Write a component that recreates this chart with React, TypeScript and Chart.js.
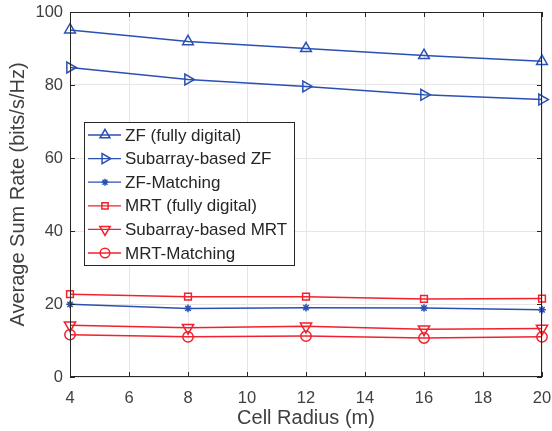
import React, { useEffect, useRef } from "react";
import { Chart, registerables } from "chart.js";
import * as helpers from "chart.js/helpers";

Chart.register(...registerables);

const radius = [4, 8, 12, 16, 20];
const zfFull = [95.1, 91.9, 90.0, 88.1, 86.5];
const subZF = [84.8, 81.5, 79.6, 77.3, 76.0];
const zfMatching = [19.9, 18.8, 19.0, 18.9, 18.4];
const mrtFull = [22.7, 22.0, 22.0, 21.4, 21.5];
const subMRT = [14.2, 13.5, 13.9, 13.1, 13.3];
const mrtMatching = [11.6, 11.0, 11.2, 10.7, 11.0];
const xTicks = [4, 6, 8, 10, 12, 14, 16, 18, 20];
const yTicks = [0, 20, 40, 60, 80, 100];

const BLUE = "#2a50b4";
const RED = "#f0222e";
const FONT = "'Liberation Sans', Arial, Helvetica, sans-serif";

function drawMarker(ctx: CanvasRenderingContext2D, ds: any, x: number, y: number, scale: number) {
  ctx.save();
  ctx.strokeStyle = ds.borderColor;
  ctx.fillStyle = "rgba(0,0,0,0)";
  ctx.lineWidth = ds.pointBorderWidth;
  (helpers as any).drawPoint(
    ctx,
    {
      pointStyle: ds.pointStyle,
      rotation: ds.pointRotation || 0,
      radius: ds.pointRadius * scale,
      borderWidth: ds.pointBorderWidth,
    },
    x,
    y
  );
  ctx.restore();
}

const framePlugin = {
  id: "frameLegend",
  afterDraw(chart: any) {
    const ctx = chart.ctx;
    const ca = chart.chartArea;
    ctx.save();
    ctx.strokeStyle = "#262626";
    ctx.lineWidth = 1;
    ctx.strokeRect(ca.left + 0.5, ca.top + 0.5, ca.right - ca.left - 1, ca.bottom - ca.top - 1);
    const xs = chart.scales.x;
    const ys = chart.scales.y;
    const tl = 5;
    ctx.beginPath();
    xTicks.forEach((v) => {
      const px = Math.round(xs.getPixelForValue(v)) + 0.5;
      ctx.moveTo(px, ca.bottom);
      ctx.lineTo(px, ca.bottom - tl);
      ctx.moveTo(px, ca.top);
      ctx.lineTo(px, ca.top + tl);
    });
    yTicks.forEach((v) => {
      const py = Math.round(ys.getPixelForValue(v)) + 0.5;
      ctx.moveTo(ca.left, py);
      ctx.lineTo(ca.left + tl, py);
      ctx.moveTo(ca.right, py);
      ctx.lineTo(ca.right - tl, py);
    });
    ctx.stroke();

    // legend
    const bx = 84, by = 122, bw = 210, bh = 143;
    ctx.fillStyle = "#ffffff";
    ctx.fillRect(bx, by, bw, bh);
    ctx.strokeStyle = "#262626";
    ctx.strokeRect(bx + 0.5, by + 0.5, bw, bh);
    const rowH = 23.6;
    ctx.font = `17px ${FONT}`;
    ctx.textBaseline = "middle";
    chart.data.datasets.forEach((ds: any, i: number) => {
      const cy = by + 13 + i * rowH;
      ctx.strokeStyle = ds.borderColor;
      ctx.lineWidth = 1.3;
      ctx.beginPath();
      ctx.moveTo(bx + 4, cy);
      ctx.lineTo(bx + 37, cy);
      ctx.stroke();
      drawMarker(ctx, ds, bx + 21, cy, 0.92);
      ctx.fillStyle = "#262626";
      ctx.fillText(ds.label, bx + 41, cy + 1);
    });
    ctx.restore();
  },
};

function mk(label: string, data: number[], color: string, style: string, r: number, rot = 0) {
  return {
    label,
    data: radius.map((x, i) => ({ x, y: data[i] })),
    borderColor: color,
    backgroundColor: "rgba(0,0,0,0)",
    pointBackgroundColor: "rgba(0,0,0,0)",
    pointBorderColor: color,
    borderWidth: 1.5,
    pointStyle: style,
    pointRotation: rot,
    pointRadius: r,
    pointBorderWidth: 1.5,
    tension: 0,
    clip: false,
  };
}

export default function App() {
  const ref = useRef<HTMLCanvasElement>(null);
  useEffect(() => {
    document.body.style.margin = "0";
    const chart = new Chart(ref.current!, {
      type: "line",
      data: {
        datasets: [
          mk("ZF (fully digital)", zfFull, BLUE, "triangle", 6.2),
          mk("Subarray-based ZF", subZF, BLUE, "triangle", 6.3, 90),
          mk("ZF-Matching", zfMatching, BLUE, "star", 3.8),
          mk("MRT (fully digital)", mrtFull, RED, "rect", 4.8),
          mk("Subarray-based MRT", subMRT, RED, "triangle", 6.5, 180),
          mk("MRT-Matching", mrtMatching, RED, "circle", 5.2),
        ] as any,
      },
      options: {
        animation: false,
        responsive: false,
        layout: { padding: { top: 12, right: 10, left: 0, bottom: 0 } },
        plugins: { legend: { display: false }, tooltip: { enabled: false } },
        scales: {
          x: {
            type: "linear",
            min: 4,
            max: 20,
            afterBuildTicks: (s: any) => {
              s.ticks = xTicks.map((v) => ({ value: v }));
            },
            afterFit: (s: any) => {
              s.height = 54;
              s.paddingLeft = 0;
              s.paddingRight = 0;
            },
            grid: { color: "#e6e6e6", drawTicks: false },
            border: { display: false },
            ticks: { color: "#404040", font: { family: FONT, size: 16.5 }, padding: 12 },
            title: {
              display: true,
              text: "Cell Radius (m)",
              color: "#404040",
              font: { family: FONT, size: 20 },
              padding: { top: 0, bottom: 1 },
            },
          },
          y: {
            type: "linear",
            min: 0,
            max: 100,
            afterBuildTicks: (s: any) => {
              s.ticks = yTicks.map((v) => ({ value: v }));
            },
            afterFit: (s: any) => {
              s.width = 70;
              s.paddingTop = 0;
              s.paddingBottom = 0;
            },
            grid: { color: "#e6e6e6", drawTicks: false },
            border: { display: false },
            ticks: { color: "#404040", font: { family: FONT, size: 16.5 }, padding: 7 },
            title: {
              display: true,
              text: "Average Sum Rate (bits/s/Hz)",
              color: "#404040",
              font: { family: FONT, size: 20 },
              padding: { top: 6, bottom: 0 },
            },
          },
        },
      },
      plugins: [framePlugin],
    });
    return () => chart.destroy();
  }, []);
  return (
    <div style={{ width: 552, height: 431, background: "#fff" }}>
      <canvas ref={ref} width={552} height={431} style={{ width: 552, height: 431 }} />
    </div>
  );
}
